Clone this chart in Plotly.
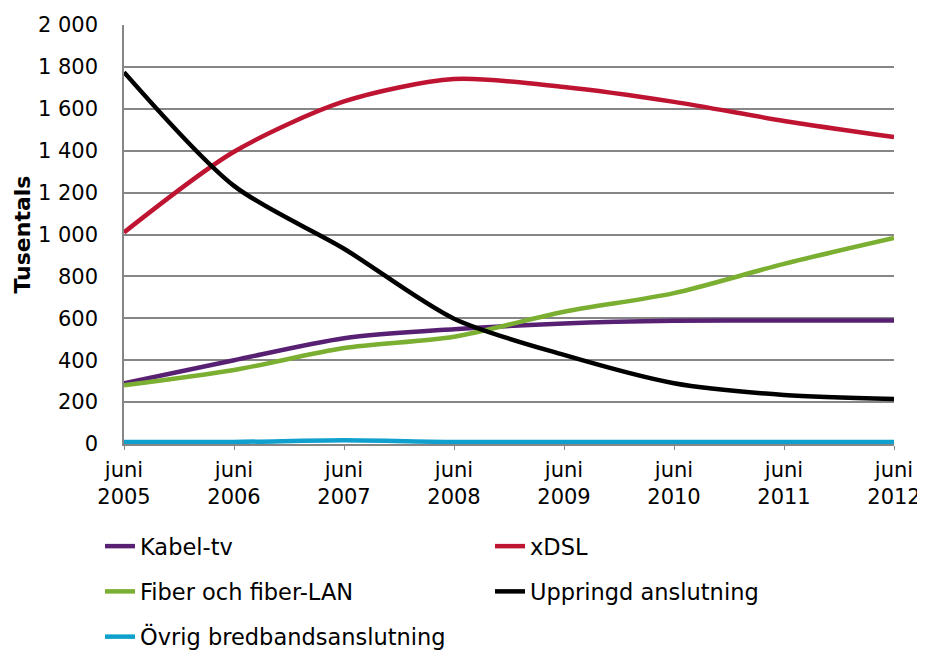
import plotly.graph_objects as go

years = ["juni<br>2005", "juni<br>2006", "juni<br>2007", "juni<br>2008",
         "juni<br>2009", "juni<br>2010", "juni<br>2011", "juni<br>2012"]

kabel_tv = [290, 400, 505, 548, 575, 588, 590, 590]
xdsl = [1010, 1395, 1635, 1742, 1704, 1633, 1542, 1465]
fiber = [280, 353, 458, 512, 631, 720, 860, 983]
uppringd = [1775, 1232, 932, 598, 425, 290, 234, 215]
ovrig = [10, 10, 18, 10, 10, 10, 10, 10]

# (namn, värden, färg, legendkolumn)
series = [
    ("Kabel-tv", kabel_tv, "#582072", "legend"),
    ("xDSL", xdsl, "#BE1432", "legend2"),
    ("Fiber och fiber-LAN", fiber, "#7AAF32", "legend"),
    ("Uppringd anslutning", uppringd, "#000000", "legend2"),
    ("Övrig bredbandsanslutning", ovrig, "#0FA0CD", "legend"),
]

x_idx = list(range(len(years)))

fig = go.Figure()
for name, vals, col, leg in series:
    fig.add_trace(go.Scatter(
        x=x_idx, y=vals, name=name, mode="lines", legend=leg, legendgroup=name,
        line=dict(color=col, width=4.5, shape="spline", smoothing=0.8),
    ))

# sidan har 8 px marginal i body, så figuren görs 8 px mindre
W, H = 917, 645
L, R, T, B = 116, 31, 17, 209
leg_common = dict(xref="container", yref="container", orientation="v",
                  xanchor="left", yanchor="top", y=1 - 517 / H,
                  tracegroupgap=13, font=dict(size=22.5),
                  bgcolor="rgba(0,0,0,0)", borderwidth=0)

fig.update_layout(
    width=W, height=H,
    margin=dict(l=L, r=R, t=T, b=B, autoexpand=False),
    paper_bgcolor="white", plot_bgcolor="white",
    font=dict(family="DejaVu Sans", size=21, color="black"),
    separators=", ",
    xaxis=dict(
        tickmode="array", tickvals=x_idx, ticktext=years,
        range=[0, 7], showgrid=False, zeroline=False, automargin=False,
        showline=True, linecolor="#868686", linewidth=1.5,
        ticks="outside", ticklen=4, tickcolor="#868686",
        tickfont=dict(size=21), ticklabelstandoff=2,
    ),
    yaxis=dict(
        range=[0, 2000], dtick=200, tickformat=",d", automargin=False,
        showgrid=True, gridcolor="#868686", gridwidth=1.5,
        zeroline=False, showline=True, linecolor="#868686", linewidth=1.5,
        ticks="", tickfont=dict(size=21), ticklabelstandoff=20,
    ),
    legend=dict(x=92 / W, **leg_common),
    legend2=dict(x=482 / W, **leg_common),
    annotations=[dict(
        text="<b>Tusentals</b>", textangle=-90, font=dict(size=22),
        xref="paper", yref="paper", x=(14 - L) / (W - L - R), y=0.5,
        xanchor="center", yanchor="middle", showarrow=False,
    )],
)

fig.write_html("out.html")
